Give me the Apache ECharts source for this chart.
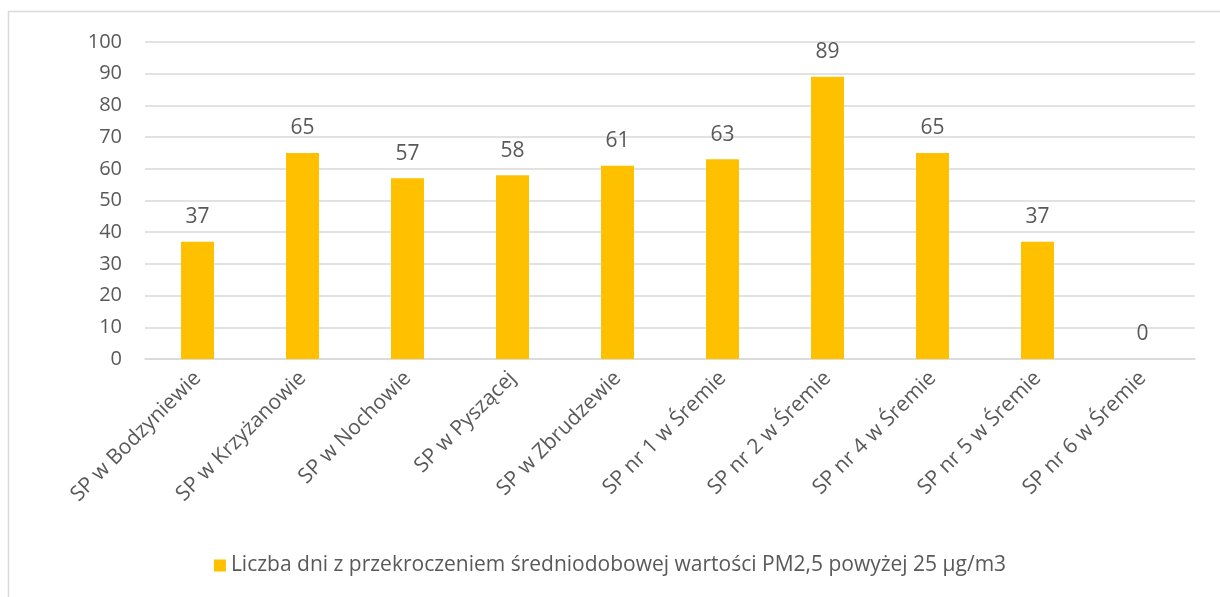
<!DOCTYPE html>
<html>
<head>
<meta charset="utf-8">
<script src="https://cdn.jsdelivr.net/npm/echarts@6/dist/echarts.min.js"></script>
<style>
  html, body { margin: 0; padding: 0; background: #fff; }
  #chart { width: 1220px; height: 597px; }
</style>
</head>
<body>
<div id="chart"></div>
<script>
const categories = [
  "SP w Bodzyniewie",
  "SP w Krzyżanowie",
  "SP w Nochowie",
  "SP w Pyszącej",
  "SP w Zbrudzewie",
  "SP nr 1 w Śremie",
  "SP nr 2 w Śremie",
  "SP nr 4 w Śremie",
  "SP nr 5 w Śremie",
  "SP nr 6 w Śremie"
];
const days = [37, 65, 57, 58, 61, 63, 89, 65, 37, 0];
const seriesName = "Liczba dni z przekroczeniem średniodobowej wartości PM2,5 powyżej 25 µg/m3";

const font = "'Open Sans', 'Noto Sans', sans-serif";
const textColor = "#595959";

const chart = echarts.init(document.getElementById("chart"));

chart.setOption({
  animation: false,
  textStyle: { fontFamily: font },
  graphic: [
    {
      type: "rect",
      shape: { x: 8.5, y: 11.5, width: 1230, height: 600 },
      style: { fill: "none", stroke: "#D9D9D9", lineWidth: 1.5 },
      silent: true
    }
  ],
  legend: {
    bottom: 16,
    left: "center",
    itemWidth: 12,
    itemHeight: 12,
    icon: "rect",
    itemGap: 4,
    textStyle: { color: textColor, fontSize: 21, fontFamily: font }
  },
  grid: {
    left: 145,
    right: 25,
    top: 42,
    bottom: 238
  },
  xAxis: {
    type: "category",
    data: categories,
    axisLine: { lineStyle: { color: "#D9D9D9", width: 1.5 } },
    axisTick: { show: false },
    axisLabel: {
      rotate: 45,
      color: textColor,
      fontSize: 21,
      fontFamily: font,
      margin: 16,
      interval: 0
    }
  },
  yAxis: {
    type: "value",
    min: 0,
    max: 100,
    interval: 10,
    axisLine: { show: false },
    axisTick: { show: false },
    splitLine: { lineStyle: { color: "#D9D9D9", width: 1.5 } },
    axisLabel: { color: textColor, fontSize: 20, fontFamily: font, margin: 23 }
  },
  series: [
    {
      name: seriesName,
      type: "bar",
      data: days,
      barWidth: 33,
      itemStyle: { color: "#FFC000" },
      label: {
        show: true,
        position: "top",
        distance: 14,
        color: textColor,
        fontSize: 21,
        fontFamily: font
      }
    }
  ]
});
</script>
</body>
</html>
